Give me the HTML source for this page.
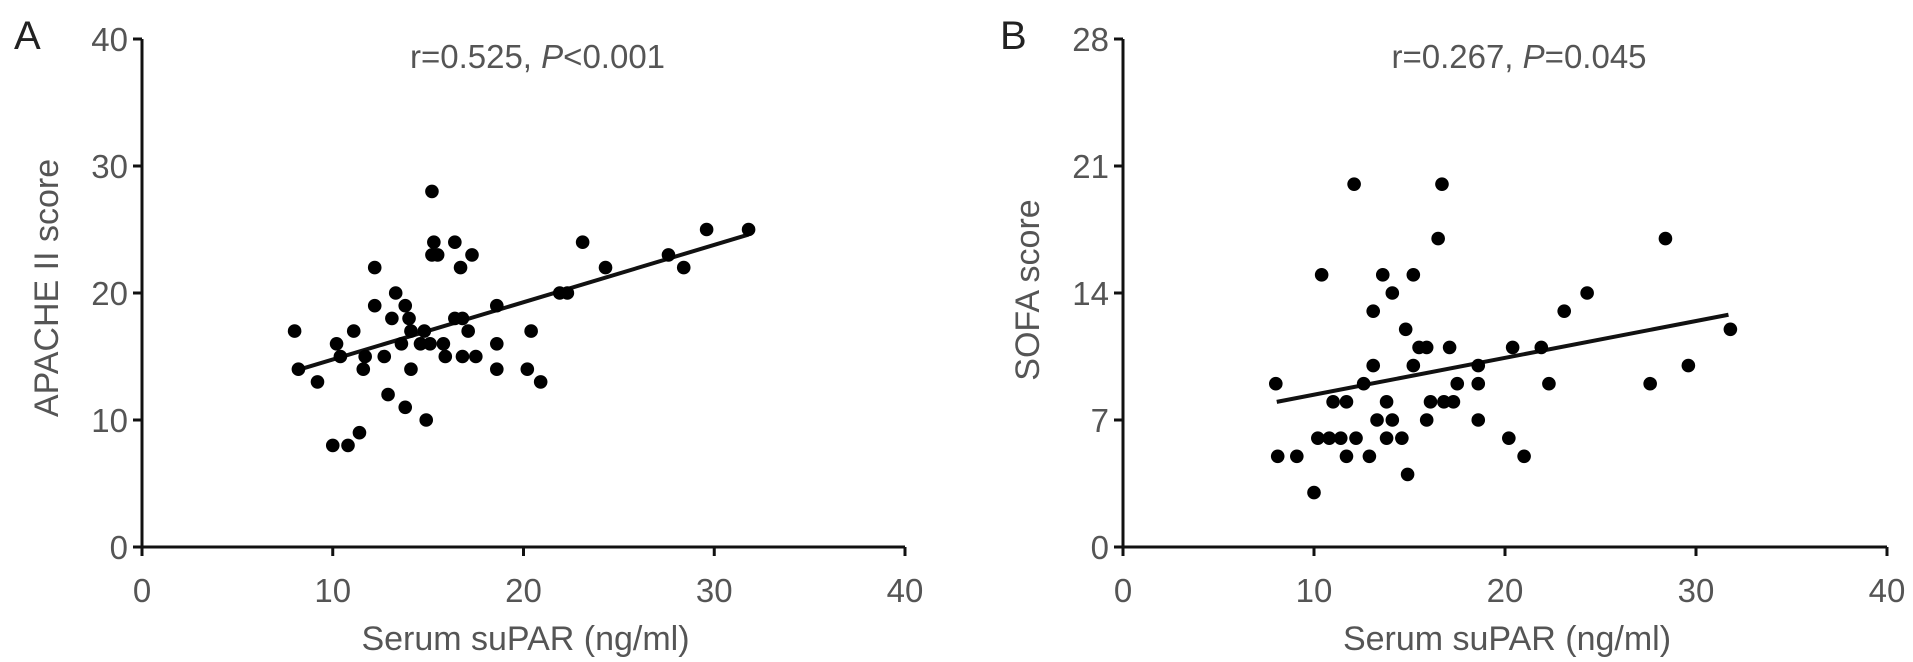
<!DOCTYPE html>
<html><head><meta charset="utf-8"><style>
html,body{margin:0;padding:0;background:#fff;}
svg{display:block;font-family:"Liberation Sans",Arial,sans-serif;}
</style></head><body>
<svg id="chart" width="1913" height="662" viewBox="0 0 1913 662" xmlns="http://www.w3.org/2000/svg"></svg>
<script>
const xTicks=[0,10,20,30,40];
const aYTicks=[0,10,20,30,40];
const bYTicks=[0,7,14,21,28];
const aX=[8.0,8.2,9.2,10.2,10.0,10.8,10.4,11.1,11.4,11.7,11.6,12.2,12.2,12.7,12.9,13.1,13.3,13.6,13.8,13.8,14.0,14.1,14.1,14.6,14.8,14.9,15.2,15.3,15.2,15.5,15.1,15.8,15.9,16.4,16.4,16.7,16.8,16.8,17.1,17.3,17.5,18.6,18.6,18.6,20.2,20.4,20.9,21.9,22.3,23.1,24.3,27.6,28.4,29.6,31.8];
const aY=[17,14,13,16,8,8,15,17,9,15,14,22,19,15,12,18,20,16,19,11,18,14,17,16,17,10,28,24,23,23,16,16,15,24,18,22,18,15,17,23,15,19,16,14,14,17,13,20,20,24,22,23,22,25,25];
const aFitX=[8.2,31.8];
const aFitY=[13.95,24.6];
const bX=[8.0,8.1,9.1,10.0,10.4,10.2,10.8,11.0,11.4,11.7,11.7,12.1,12.2,12.6,12.9,13.1,13.1,13.3,13.6,13.8,13.8,14.1,14.1,14.6,14.8,14.9,15.2,15.2,15.5,15.9,15.9,16.1,16.5,16.7,16.8,17.1,17.3,17.5,18.6,18.6,18.6,20.2,20.4,21.0,21.9,22.3,23.1,24.3,27.6,28.4,29.6,31.8];
const bY=[9,5,5,3,15,6,6,8,6,8,5,20,6,9,5,13,10,7,15,8,6,14,7,6,12,4,15,10,11,11,7,8,17,20,8,11,8,9,10,9,7,6,11,5,11,9,13,14,9,17,10,12];
const bFitX=[8.05,31.7];
const bFitY=[8.0,12.8];

const NS="http://www.w3.org/2000/svg";
const svg=document.getElementById('chart');
function el(tag,attrs,parent){const e=document.createElementNS(NS,tag);for(const k in attrs)e.setAttribute(k,attrs[k]);(parent||svg).appendChild(e);return e;}

function panel(cfg){
  const g=el('g',{});
  
  
  const x0=cfg.x0,x1=cfg.x1,y0=547,y1=39;
  const sx=v=>x0+(v-0)/40*(x1-x0);
  const sy=v=>y0-(v-0)/cfg.ymax*(y0-y1);
  const ax=el('path',{d:`M${x0} ${y1}V${y0}H${x1}`,stroke:'#111',fill:'none','stroke-width':3},g);
  
  
  xTicks.forEach(t=>{
    const l=el('line',{x1:sx(t),x2:sx(t),y1:y0,y2:y0+9,stroke:'#111','stroke-width':3},g);
    
    
    const tx=el('text',{x:sx(t),y:602,'text-anchor':'middle','font-size':33,fill:'#555'},g);
    tx.textContent=t;
    
    
  });
  cfg.yTicks.forEach(t=>{
    const l=el('line',{x1:x0-9,x2:x0,y1:sy(t),y2:sy(t),stroke:'#111','stroke-width':3},g);
    
    
    const tx=el('text',{x:x0-14,y:sy(t)+12,'text-anchor':'end','font-size':33,fill:'#555'},g);
    tx.textContent=t;
    
    
  });
  const fit=el('line',{x1:sx(cfg.fx[0]),y1:sy(cfg.fy[0]),x2:sx(cfg.fx[1]),y2:sy(cfg.fy[1]),stroke:'#111','stroke-width':4},g);
  
  
  cfg.xs.forEach((v,i)=>{
    const c=el('circle',{cx:sx(v),cy:sy(cfg.ys[i]),r:6.8,fill:'#000'},g);
    
    
  });
  const xt=el('text',{x:(x0+x1)/2+2,y:650,'text-anchor':'middle','font-size':34,fill:'#555'},g);
  xt.textContent='Serum suPAR (ng/ml)';
  
  
  const yt=el('text',{x:0,y:0,'text-anchor':'middle','font-size':34,fill:'#555',transform:`translate(${x0-84},${cfg.ytc}) rotate(-90)`},g);
  yt.textContent=cfg.ytitle;
  
  
  const st=el('text',{x:(x0+x1)/2+14,y:68,'text-anchor':'middle','font-size':33,fill:'#555'},g);
  st.innerHTML=cfg.stat;
  
  
  const pl=el('text',{x:cfg.lx,y:49,'font-size':40,fill:'#222'},g);
  pl.textContent=cfg.id;
  
  
}
panel({id:'A',x0:142,x1:905,ymax:40,yTicks:aYTicks,xs:aX,ys:aY,fx:aFitX,fy:aFitY,ytitle:'APACHE II score',ytc:288,lx:14,
  stat:'r=0.525, <tspan font-style="italic">P</tspan>&lt;0.001'});
panel({id:'B',x0:1123,x1:1887,ymax:28,yTicks:bYTicks,xs:bX,ys:bY,fx:bFitX,fy:bFitY,ytitle:'SOFA score',ytc:290,lx:1000,
  stat:'r=0.267, <tspan font-style="italic">P</tspan>=0.045'});
</script>
</body></html>
